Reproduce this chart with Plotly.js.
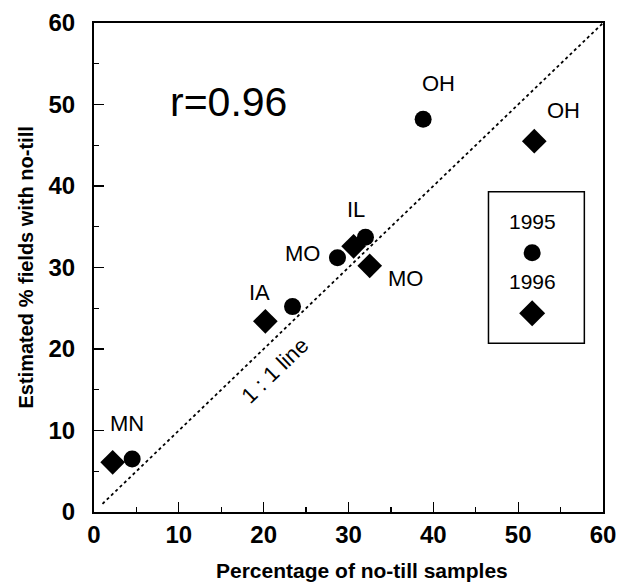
<!DOCTYPE html>
<html>
<head>
<meta charset="utf-8">
<script src="https://cdn.plot.ly/plotly-3.0.1.min.js"></script>
<style>html,body{margin:0;padding:0;background:#fff;}#chart{width:630px;height:582px;}</style>
</head>
<body>
<div id="chart"></div>
<script>
// Data
const states1995 = ["MN", "IA", "MO", "IL", "OH"];
const x1995 = [4.5, 23.4, 28.7, 32.0, 38.8];
const y1995 = [6.5, 25.2, 31.2, 33.7, 48.2];
const states1996 = ["MN", "IA", "IL", "MO", "OH"];
const x1996 = [2.2, 20.2, 30.6, 32.5, 51.9];
const y1996 = [6.1, 23.4, 32.6, 30.2, 45.5];
const oneToOne = [1, 60];
const tickVals = [0, 10, 20, 30, 40, 50, 60];
const seriesNames = ["1995", "1996"];

const FONT = "Liberation Sans, Arial, sans-serif";

const traces = [
  {x: oneToOne, y: oneToOne, mode: "lines", type: "scatter",
   line: {color: "#000", width: 1.8, dash: "dot"}, hoverinfo: "skip", showlegend: false},
  {x: x1995, y: y1995, mode: "markers", type: "scatter", name: seriesNames[0],
   marker: {symbol: "circle", size: 17, color: "#000"}, showlegend: false},
  {x: x1996, y: y1996, mode: "markers", type: "scatter", name: seriesNames[1],
   marker: {symbol: "diamond", size: 19, color: "#000"}, showlegend: false}
];

// label pixel offsets from their points
const lab = (txt, x, y, dx, dy) => ({x: x, y: y, xref: "x", yref: "y", text: txt, showarrow: false,
  xshift: dx, yshift: dy, font: {family: FONT, size: 22, color: "#000"}});

const annotations = [
  // 1995 labels
  lab(states1995[2], x1995[2], y1995[2], -35, 4),
  lab(states1995[4], x1995[4], y1995[4], 15, 36),
  // 1996 labels
  lab(states1996[0], x1996[0], y1996[0], 14, 39),
  lab(states1996[1], x1996[1], y1996[1], -6, 29),
  lab(states1996[2], x1996[2], y1996[2], 2, 37),
  lab(states1996[3], x1996[3], y1996[3], 36, -13),
  lab(states1996[4], x1996[4], y1996[4], 29, 31),
  {x: 15.8, y: 50.3, xref: "x", yref: "y", text: "r=0.96", showarrow: false,
   font: {family: FONT, size: 41, color: "#000"}},
  {x: 21.3, y: 17.4, xref: "x", yref: "y", text: "1 : 1 line", showarrow: false, textangle: -44,
   font: {family: FONT, size: 22, color: "#000"}},
  {x: 51.65, y: 35.6, xref: "x", yref: "y", text: seriesNames[0], showarrow: false,
   font: {family: FONT, size: 21, color: "#000"}},
  {x: 51.65, y: 28.3, xref: "x", yref: "y", text: seriesNames[1], showarrow: false,
   font: {family: FONT, size: 21, color: "#000"}},
  {x: 0.5, y: 0, xref: "paper", yref: "paper", xanchor: "center", yanchor: "middle",
   yshift: -58, xshift: 13, text: "Percentage of no-till samples",
   showarrow: false, font: {family: FONT, size: 21, color: "#000", weight: "bold"}},
  {x: 0, y: 0.5, xref: "paper", yref: "paper", xanchor: "center", yanchor: "middle",
   xshift: -69, yshift: 0, text: "Estimated % fields with no-till",
   showarrow: false, textangle: -90, font: {family: FONT, size: 20, color: "#000", weight: "bold"}}
];

const shapes = [
  {type: "rect", xref: "x", yref: "y", x0: 46.5, x1: 57.8, y0: 20.7, y1: 39.3,
   line: {color: "#000", width: 1.5}, fillcolor: "rgba(0,0,0,0)"},
  {type: "circle", xref: "x", yref: "y", xsizemode: "pixel", ysizemode: "pixel",
   xanchor: 51.65, yanchor: 31.8, x0: -8.5, x1: 8.5, y0: -8.5, y1: 8.5,
   fillcolor: "#000", line: {width: 0}},
  {type: "path", xref: "x", yref: "y", xsizemode: "pixel", ysizemode: "pixel",
   xanchor: 51.65, yanchor: 24.4, path: "M -13 0 L 0 13 L 13 0 L 0 -13 Z",
   fillcolor: "#000", line: {width: 0}}
];

const axisCommon = {
  range: [0, 60], tickvals: tickVals, ticktext: tickVals.map(String),
  ticks: "inside", ticklen: 10, tickwidth: 1.3, tickcolor: "#000",
  minor: {dtick: 5, tick0: 0, ticks: "inside", ticklen: 5, tickwidth: 1.2, tickcolor: "#000"},
  showline: true, linecolor: "#000", linewidth: 2, mirror: true,
  showgrid: false, zeroline: false,
  tickfont: {family: FONT, size: 24, color: "#000", weight: "bold"}
};

const layout = {
  width: 630, height: 582,
  margin: {l: 94, r: 27, t: 23, b: 70},
  paper_bgcolor: "#fff", plot_bgcolor: "#fff",
  showlegend: false,
  xaxis: Object.assign({}, axisCommon, {ticklabelstandoff: 0}),
  yaxis: Object.assign({}, axisCommon, {ticklabelstandoff: 12}),
  annotations: annotations,
  shapes: shapes
};

Plotly.newPlot("chart", traces, layout, {staticPlot: true, displayModeBar: false});
</script>
</body>
</html>
